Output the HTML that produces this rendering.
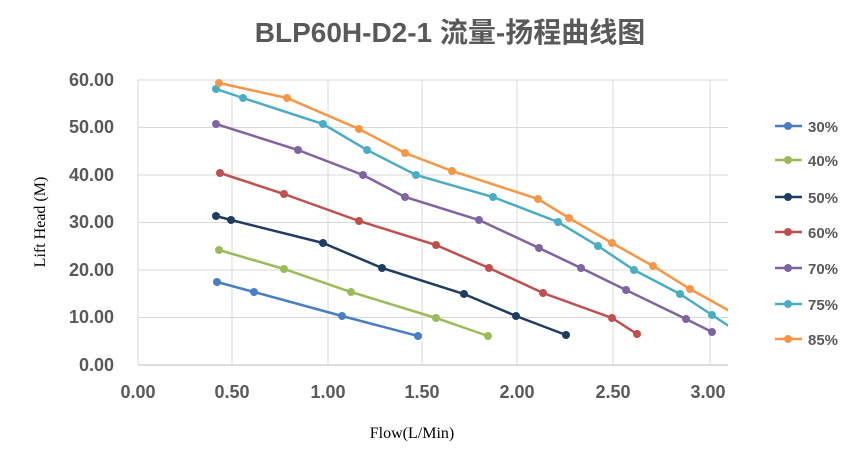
<!DOCTYPE html>
<html><head><meta charset="utf-8"><style>body{margin:0;background:#fff}</style></head><body>
<svg width="865" height="454" xmlns="http://www.w3.org/2000/svg" font-family="Liberation Sans, Noto Sans CJK SC, sans-serif">
<rect width="865" height="454" fill="#fff"/>
<text x="450" y="42" text-anchor="middle" font-size="28" font-weight="bold" fill="#595959">BLP60H-D2-1  流量-扬程曲线图</text>
<g stroke="#d9d9d9" stroke-width="1">
<line x1="138" y1="80" x2="728" y2="80"/><line x1="138" y1="127.5" x2="728" y2="127.5"/><line x1="138" y1="175" x2="728" y2="175"/><line x1="138" y1="222.5" x2="728" y2="222.5"/><line x1="138" y1="270" x2="728" y2="270"/><line x1="138" y1="317.5" x2="728" y2="317.5"/>
<line x1="232" y1="80" x2="232" y2="365"/><line x1="328" y1="80" x2="328" y2="365"/><line x1="422" y1="80" x2="422" y2="365"/><line x1="517" y1="80" x2="517" y2="365"/><line x1="613" y1="80" x2="613" y2="365"/><line x1="710" y1="80" x2="710" y2="365"/>
<line x1="138" y1="80" x2="138" y2="365"/>
</g>
<line x1="138" y1="365" x2="728" y2="365" stroke="#bfbfbf"/>
<g font-size="18" font-weight="bold" fill="#595959" text-anchor="end">
<text x="114" y="86">60.00</text><text x="114" y="133">50.00</text><text x="114" y="181">40.00</text><text x="114" y="228">30.00</text><text x="114" y="276">20.00</text><text x="114" y="323">10.00</text><text x="114" y="371">0.00</text>
</g>
<g font-size="18" font-weight="bold" fill="#595959" text-anchor="middle">
<text x="138" y="398">0.00</text><text x="232" y="398">0.50</text><text x="328" y="398">1.00</text><text x="422" y="398">1.50</text><text x="517" y="398">2.00</text><text x="613" y="398">2.50</text><text x="708" y="398">3.00</text>
</g>
<text x="412" y="438" text-anchor="middle" font-family="Liberation Serif, serif" font-size="16" fill="#000">Flow(L/Min)</text>
<text transform="translate(45,222) rotate(-90)" text-anchor="middle" font-family="Liberation Serif, serif" font-size="16" fill="#000">Lift Head (M)</text>
<defs><clipPath id="c"><rect x="130" y="70" width="598" height="300"/></clipPath></defs>
<g clip-path="url(#c)" fill="none" stroke-width="2.5">
<polyline stroke="#4a7ec4" points="217,282 254,292 342,316 418,336"/>
<polyline stroke="#9bbb59" points="219,250 284,269 351,292 436,318 488,336"/>
<polyline stroke="#1f3d63" points="216,216 231,220 323,243 382,268 464,294 516,316 566,335"/>
<polyline stroke="#c0504d" points="220,173 284,194 359,221 436,245 489,268 543,293 612,318 637,334"/>
<polyline stroke="#8064a2" points="216,124 298,150 363,175 405,197 479,220 539,248 581,268 626,290 686,319 712,332"/>
<polyline stroke="#4bacc6" points="216,89 243,98 323,124 367,150 416,175 493,197 558,222 598,246 634,270 680,294 712,315 735,330"/>
<polyline stroke="#f79646" points="219,83 287,98 359,129 405,153 452,171 538,199 569,218 612,243 653,266 690,289 735,314"/>
</g>
<g>
<g fill="#4a7ec4"><circle cx="217" cy="282" r="4"/><circle cx="254" cy="292" r="4"/><circle cx="342" cy="316" r="4"/><circle cx="418" cy="336" r="4"/></g>
<g fill="#9bbb59"><circle cx="219" cy="250" r="4"/><circle cx="284" cy="269" r="4"/><circle cx="351" cy="292" r="4"/><circle cx="436" cy="318" r="4"/><circle cx="488" cy="336" r="4"/></g>
<g fill="#1f3d63"><circle cx="216" cy="216" r="4"/><circle cx="231" cy="220" r="4"/><circle cx="323" cy="243" r="4"/><circle cx="382" cy="268" r="4"/><circle cx="464" cy="294" r="4"/><circle cx="516" cy="316" r="4"/><circle cx="566" cy="335" r="4"/></g>
<g fill="#c0504d"><circle cx="220" cy="173" r="4"/><circle cx="284" cy="194" r="4"/><circle cx="359" cy="221" r="4"/><circle cx="436" cy="245" r="4"/><circle cx="489" cy="268" r="4"/><circle cx="543" cy="293" r="4"/><circle cx="612" cy="318" r="4"/><circle cx="637" cy="334" r="4"/></g>
<g fill="#8064a2"><circle cx="216" cy="124" r="4"/><circle cx="298" cy="150" r="4"/><circle cx="363" cy="175" r="4"/><circle cx="405" cy="197" r="4"/><circle cx="479" cy="220" r="4"/><circle cx="539" cy="248" r="4"/><circle cx="581" cy="268" r="4"/><circle cx="626" cy="290" r="4"/><circle cx="686" cy="319" r="4"/><circle cx="712" cy="332" r="4"/></g>
<g fill="#4bacc6"><circle cx="216" cy="89" r="4"/><circle cx="243" cy="98" r="4"/><circle cx="323" cy="124" r="4"/><circle cx="367" cy="150" r="4"/><circle cx="416" cy="175" r="4"/><circle cx="493" cy="197" r="4"/><circle cx="558" cy="222" r="4"/><circle cx="598" cy="246" r="4"/><circle cx="634" cy="270" r="4"/><circle cx="680" cy="294" r="4"/><circle cx="712" cy="315" r="4"/></g>
<g fill="#f79646"><circle cx="219" cy="83" r="4"/><circle cx="287" cy="98" r="4"/><circle cx="359" cy="129" r="4"/><circle cx="405" cy="153" r="4"/><circle cx="452" cy="171" r="4"/><circle cx="538" cy="199" r="4"/><circle cx="569" cy="218" r="4"/><circle cx="612" cy="243" r="4"/><circle cx="653" cy="266" r="4"/><circle cx="690" cy="289" r="4"/></g>
</g>
<g font-size="15" font-weight="bold" fill="#595959" stroke-width="2.5">
<line x1="775" y1="126" x2="802" y2="126" stroke="#4a7ec4"/><circle cx="788" cy="126" r="4" fill="#4a7ec4"/><text x="808" y="132">30%</text>
<line x1="775" y1="160" x2="802" y2="160" stroke="#9bbb59"/><circle cx="788" cy="160" r="4" fill="#9bbb59"/><text x="808" y="166">40%</text>
<line x1="775" y1="197" x2="802" y2="197" stroke="#1f3d63"/><circle cx="788" cy="197" r="4" fill="#1f3d63"/><text x="808" y="203">50%</text>
<line x1="775" y1="232" x2="802" y2="232" stroke="#c0504d"/><circle cx="788" cy="232" r="4" fill="#c0504d"/><text x="808" y="238">60%</text>
<line x1="775" y1="268" x2="802" y2="268" stroke="#8064a2"/><circle cx="788" cy="268" r="4" fill="#8064a2"/><text x="808" y="274">70%</text>
<line x1="775" y1="304" x2="802" y2="304" stroke="#4bacc6"/><circle cx="788" cy="304" r="4" fill="#4bacc6"/><text x="808" y="310">75%</text>
<line x1="775" y1="339" x2="802" y2="339" stroke="#f79646"/><circle cx="788" cy="339" r="4" fill="#f79646"/><text x="808" y="345">85%</text>
</g>
</svg>
</body></html>
